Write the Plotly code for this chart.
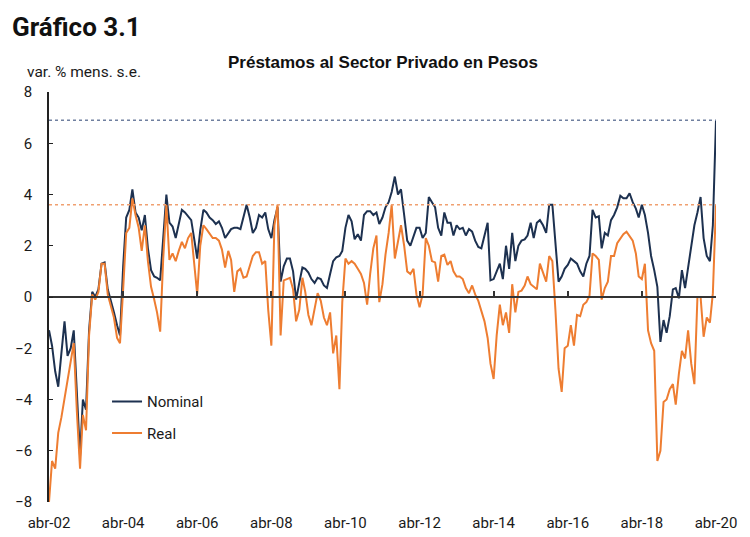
import pandas as pd
import plotly.graph_objects as go

# Monthly % change, seasonally adjusted, Apr-2002 .. Apr-2020
nominal = [
    -1.3, -1.9, -2.9, -3.5, -2.2, -0.95, -2.3, -2.0, -1.3, -3.7, -6.2, -4.0,
    -4.4, -1.3, 0.2, 0.0, 0.3, 1.3, 1.35, 0.3, -0.2, -0.6, -1.1, -1.5,
    1.2, 3.1, 3.4, 4.2, 3.3, 3.1, 2.6, 3.2, 1.9, 1.05, 0.8, 0.75,
    0.65, 2.3, 4.0, 2.9, 2.75, 2.3, 2.8, 3.4, 3.3, 3.15, 3.0, 2.3,
    1.5, 2.6, 3.4, 3.3, 3.1, 3.0, 2.85, 2.95, 2.7, 2.3, 2.5, 2.65,
    2.7, 2.7, 2.65, 3.15, 3.6, 3.1, 2.5, 2.7, 3.2, 3.1, 3.3, 2.65,
    2.3, 3.0, 3.5, 0.6, 1.2, 1.5, 1.5, 1.0, -0.1, 0.55, 1.15, 1.1,
    0.95, 0.7, 0.55, 0.75, 0.7, 0.45, 0.35, 0.9, 1.4, 1.55, 1.6, 1.8,
    2.7, 3.2, 2.95, 2.25, 2.45, 2.2, 3.2, 3.35, 3.35, 3.2, 3.3, 2.85,
    3.1, 3.5, 3.7, 4.1, 4.7, 4.0, 4.2, 3.2, 2.2, 2.0, 2.4, 2.7,
    2.7, 2.3, 2.5, 3.9, 3.7, 3.5, 2.7, 2.4, 3.3, 2.9, 2.9, 2.4,
    2.8, 2.65, 2.7, 2.4, 2.65, 2.55, 2.2, 1.95, 1.9, 2.35, 2.9, 0.65,
    0.7, 1.0, 1.3, 0.7, 2.0, 1.1, 2.5, 1.4, 2.0, 2.2, 2.25, 2.4,
    2.9, 2.3, 2.9, 3.0, 2.8, 2.5, 3.6, 3.6, 2.2, 0.6, 0.8, 1.1,
    1.25, 1.5, 1.4, 1.3, 1.0, 0.8, 1.3, 1.6, 3.4, 3.1, 3.15, 1.9,
    2.5, 2.4, 3.0, 3.2, 3.5, 3.95, 3.85, 3.85, 4.05, 3.7, 3.45, 3.1,
    3.6, 3.2, 2.5, 1.6, 1.05, 0.4, -1.75, -0.9, -1.4, -0.75, 0.3, 0.35,
    -0.05, 1.05, 0.35, 1.2, 2.1, 2.8, 3.3, 3.9, 2.3, 1.6, 1.4, 2.8,
    6.9,
]

real = [
    -8.0, -6.4, -6.7, -5.3, -4.7, -4.0, -3.3, -2.5, -1.8, -4.5, -6.7, -4.6,
    -5.2, -1.5, 0.1, -0.1, 0.2, 1.3, 1.3, 0.1, -0.4, -0.8, -1.6, -1.8,
    0.3, 2.5, 2.7, 3.85, 3.2, 2.7, 1.8, 2.8, 1.4, 0.4, -0.1, -0.6,
    -1.35, 1.5, 3.6, 1.45, 1.7, 1.4, 1.8, 2.15, 1.9, 2.3, 2.5, 1.2,
    0.1, 2.0, 2.8, 2.65, 2.45, 2.3, 2.3, 2.2, 1.85, 1.15, 1.8, 1.45,
    0.2, 1.0, 1.1, 0.75, 0.8, 1.2, 1.6, 1.75, 1.75, 1.3, 1.4, -0.5,
    -1.9, 2.8, 3.6, -1.5, 0.65, 0.7, 0.75, 0.3, -0.95, -0.5, 0.75, 0.2,
    -0.7, -1.1, -0.5, 0.15, -0.15, -0.8, -1.1, -0.6, -2.2, -1.5, -3.6, -0.2,
    1.5, 1.3, 1.4, 1.3, 1.1, 0.9, 0.55, -0.3, 0.9, 1.9, 2.4, -0.2,
    0.5, 1.65, 2.5, 3.6, 1.5, 2.2, 2.8, 2.0, 1.0, 0.9, 1.1, 0.1,
    -0.4, 0.1, 2.3, 2.0, 1.4, 1.35, 0.6, 1.6, 1.65, 1.25, 1.4, 1.0,
    0.8, 0.8, 0.7, 0.35, 0.15, 0.45, 0.1, -0.15, -0.6, -0.95, -1.6, -2.6,
    -3.2, -1.5, -0.3, -1.1, -0.6, -1.4, 0.5, -0.6, 0.2, 0.25, 0.45, 0.8,
    0.5, 0.4, 0.3, 1.3, 0.9, 0.6, 1.6, 1.4, -0.5, -2.8, -3.7, -2.0,
    -1.9, -1.1, -1.9, -0.7, -0.75, -0.3, -0.2, 0.05, 1.7, 1.6, 1.45, -0.1,
    0.35, 0.6, 1.6, 1.6, 2.1, 2.3, 2.45, 2.55, 2.4, 2.2, 1.7, 0.8,
    0.7, 1.3, -1.3, -1.8, -2.1, -6.4, -6.0, -4.1, -4.0, -3.6, -3.4, -4.2,
    -3.0, -2.1, -2.4, -1.3, -2.6, -3.4, 0.0, 0.0, -1.55, -0.8, -1.0, 0.15,
    3.6,
]

x_tick_labels = ["abr-02", "abr-04", "abr-06", "abr-08", "abr-10",
                 "abr-12", "abr-14", "abr-16", "abr-18", "abr-20"]
x_tick_years = [2002, 2004, 2006, 2008, 2010, 2012, 2014, 2016, 2018, 2020]
y_ticks = [-8, -6, -4, -2, 0, 2, 4, 6, 8]

dates = pd.date_range("2002-04-01", periods=len(nominal), freq="MS")
tick_vals = [pd.Timestamp(f"{y}-04-01") for y in x_tick_years]

NAVY = "#1d3150"
ORANGE = "#ee7d31"

fig = go.Figure()

# reference lines at the latest value of each series
fig.add_trace(go.Scatter(
    x=[dates[0], dates[-1]], y=[nominal[-1], nominal[-1]],
    xaxis="x2", mode="lines", showlegend=False, hoverinfo="skip",
    line=dict(color="#7080a0", width=1.5, dash="dot")))
fig.add_trace(go.Scatter(
    x=[dates[0], dates[-1]], y=[real[-1], real[-1]],
    xaxis="x2", mode="lines", showlegend=False, hoverinfo="skip",
    line=dict(color="#f0a070", width=1.5, dash="dot")))

fig.add_trace(go.Scatter(x=dates, y=nominal, name="Nominal", mode="lines",
                         legendgroup="n",
                         line=dict(color=NAVY, width=2)))
fig.add_trace(go.Scatter(x=dates, y=real, name="Real", mode="lines",
                         legendgroup="r",
                         line=dict(color=ORANGE, width=2)))

FONT = "Roboto, Arial, sans-serif"

fig.update_layout(
    width=750, height=537,
    margin=dict(l=41, r=42, t=84, b=43),
    paper_bgcolor="white", plot_bgcolor="white",
    font=dict(family=FONT, size=15, color="#1a1a1a"),
    xaxis=dict(
        range=[dates[0], dates[-1]], automargin=False,
        tickvals=tick_vals, ticktext=x_tick_labels,
        showline=False, ticks="", showgrid=False, zeroline=False,
        tickfont=dict(size=15, color="#1a1a1a"),
        ticklabelstandoff=10,
    ),
    xaxis2=dict(
        range=[dates[0], dates[-1]], automargin=False,
        overlaying="x", anchor="free", position=0.5, side="bottom",
        tickvals=tick_vals, showticklabels=False,
        showline=True, linecolor="#333333", linewidth=2,
        ticks="inside", ticklen=5, tickwidth=1.5, tickcolor="#333333",
        showgrid=False, zeroline=False,
    ),
    yaxis=dict(
        range=[-8, 8], tickvals=y_ticks, automargin=False,
        showline=True, linecolor="#222222", linewidth=1.5,
        ticks="inside", ticklen=4, tickcolor="#222222",
        showgrid=False, zeroline=False,
        tickfont=dict(size=15, color="#1a1a1a"),
        ticklabelstandoff=12,
    ),
    legend=dict(
        x=0.087, y=0.285, xanchor="left", yanchor="top",
        bgcolor="rgba(0,0,0,0)", font=dict(size=15, color="#1a1a1a"),
        itemwidth=30, traceorder="grouped", tracegroupgap=9,
    ),
    annotations=[
        dict(text="<b>Gráfico 3.1</b>", xref="paper", yref="paper",
             x=-0.0585, y=1.2, xanchor="left", yanchor="top",
             showarrow=False,
             font=dict(family="Roboto, sans-serif", size=26, color="#111111")),
        dict(text="<b>Préstamos al Sector Privado en Pesos</b>",
             xref="paper", yref="paper", x=0.5, y=1.073,
             xanchor="center", yanchor="middle", showarrow=False,
             font=dict(family="Arial, Liberation Sans, sans-serif",
                       size=17, color="#111111")),
        dict(text="var. % mens. s.e.", xref="paper", yref="paper",
             x=-0.036, y=1.049, xanchor="left", yanchor="middle",
             showarrow=False, font=dict(size=15.5, color="#1a1a1a")),
    ],
)

fig.write_html("out.html")
